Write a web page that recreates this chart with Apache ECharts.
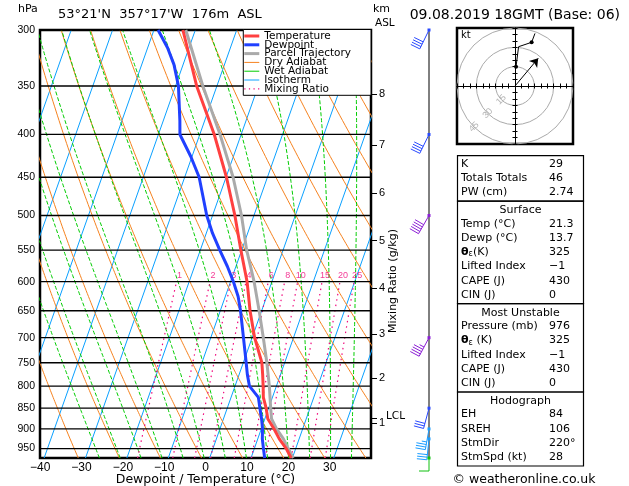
<!DOCTYPE html>
<html>
<head>
<meta charset="utf-8">
<title>Skew-T</title>
<script src="https://cdn.jsdelivr.net/npm/echarts@6/dist/echarts.min.js"></script>
<style>
  html, body { margin: 0; padding: 0; background: #fff; }
  #chart { width: 629px; height: 486px; }
</style>
</head>
<body>
<div id="chart"></div>
<script>
// 温度廓线 (hPa / °C)
var tempP = [975, 950, 925, 900, 875, 850, 825, 800, 775, 750, 700, 650, 600, 550, 500, 450, 400, 350, 300];
var tempT = [19.7, 17.7, 15.2, 13.1, 10.7, 9.4, 7.8, 6.8, 5.7, 4.5, 0.6, -2.8, -6.0, -10.2, -14.6, -19.9, -26.5, -34.9, -43.0];
// 露点廓线
var dewP = [975, 950, 925, 900, 875, 850, 825, 800, 775, 750, 700, 650, 625, 600, 575, 550, 525, 500, 450, 425, 400, 385, 350, 330, 315, 300];
var dewT = [13.3, 12.2, 11.1, 10.3, 9.2, 7.9, 6.6, 3.5, 2.0, 0.7, -2.1, -5.1, -6.9, -9.3, -12.1, -15.3, -18.5, -21.4, -26.5, -30.3, -34.8, -36.0, -39.3, -42.2, -45.2, -49.0];
// 气块路径
var parcelP = [975, 950, 925, 900, 875, 850, 800, 750, 700, 650, 600, 550, 500, 450, 400, 350, 300];
var parcelT = [20.2, 18.2, 16.2, 13.7, 11.6, 10.5, 8.3, 5.7, 2.7, -0.6, -4.3, -8.8, -13.0, -18.3, -25.1, -33.4, -42.3];

// 背景线
var isobars = [300, 350, 400, 450, 500, 550, 600, 650, 700, 750, 800, 850, 900, 950];
var isoT = [-80, -70, -60, -50, -40, -30, -20, -10, 0, 10, 20, 30, 40];
var dryTheta = [-40, -30, -20, -10, 0, 10, 20, 30, 40, 50, 60, 70, 80, 90, 100, 110, 120];
var wetThw = [-25, -20, -15, -10, -5, 0, 5, 10, 15, 20, 25, 30, 35];
var mixW = [1, 2, 3, 4, 6, 8, 10, 15, 20, 25];

// 坐标轴刻度
var xTicks = [-40, -30, -20, -10, 0, 10, 20, 30];
var kmP = [357.8, 411.8, 470.5, 536, 611, 693.7, 783, 873, 885];
var kmLabels = ['8', '7', '6', '5', '4', '3', '2', 'LCL', '1'];

// 风羽
var windP = [300, 400, 500, 700, 850, 900, 925, 975];
var windDir = [206, 206, 210, 208, 195, 190, 186, 180];
var windSpd = [40, 40, 50, 45, 30, 35, 30, 10];
var windCol = ['#2848ff', '#2848ff', '#8c1ed6', '#8c1ed6', '#2848ff', '#1a9cff', '#1a9cff', '#10c010'];

// 速度图 (kt)
var hodoU = [0.8, 2.8, 12.9, 15.5];
var hodoV = [15.0, 30.5, 33.9, 40.8];
var hodoRings = [15, 30, 45];
var stormDir = 220, stormSpd = 28;

// 指数表
var indexRows = [['K', '29'], ['Totals Totals', '46'], ['PW (cm)', '2.74']];
var surfaceRows = [['Temp (°C)', '21.3'], ['Dewp (°C)', '13.7'], ['{b|θ}{s|ε}(K)', '325'], ['Lifted Index', '\u22121'], ['CAPE (J)', '430'], ['CIN (J)', '0']];
var muRows = [['Pressure (mb)', '976'], ['{b|θ}{s|ε} (K)', '325'], ['Lifted Index', '\u22121'], ['CAPE (J)', '430'], ['CIN (J)', '0']];
var hodoRows = [['EH', '84'], ['SREH', '106'], ['StmDir', '220°'], ['StmSpd (kt)', '28']];

var chart = echarts.init(document.getElementById('chart'));

var S = 31, PB = 975, PT = 300;   // 斜率 (°C / ln p), 底部和顶部气压
function skew(t, p) { return t + S * Math.log(PB / p); }
function levels(top, step) {
  var a = [];
  for (var p = PB; p >= top - 0.01; p -= step) a.push(p);
  return a;
}
var fine = levels(PT, 5);

function lapse(t, p) { // 湿绝热 dT/dp (K/hPa)
  var tc = t - 273.15;
  var es = 6.112 * Math.exp(17.67 * tc / (tc + 243.5));
  var rs = 0.622 * es / (p - es);
  var Rd = 287.04, cp = 1005.7, Lv = 2.501e6;
  return (Rd * t + Lv * rs) / (p * (cp + Lv * Lv * rs * 0.622 / (Rd * t * t)));
}
function moist(thw) {
  var t = thw + 273.15, p = 1000, out = [];
  while (p >= PT - 0.01) {
    if (p <= PB + 0.01) out.push([skew(t - 273.15, p), p]);
    var k1 = lapse(t, p), k2 = lapse(t - 5 * k1, p - 5);
    t -= 2.5 * (k1 + k2);
    p -= 5;
  }
  return out;
}
function tdFromW(w, p) {
  var e = w * p / (622 + w), l = Math.log(e / 6.112);
  return 243.5 * l / (17.67 - l);
}
function profile(ps, ts) {
  return ps.map(function (p, i) { return [skew(ts[i], p), p]; });
}
function minus(v) { return String(v).replace('-', '\u2212'); }

var series = [];
function bg(name, data, color, width, type, z) {
  series.push({
    name: name, type: 'line', xAxisIndex: 0, yAxisIndex: 0, data: data,
    symbol: 'none', silent: true, z: z || 2,
    itemStyle: { color: color },
    lineStyle: { color: color, width: width, type: type || 'solid' }
  });
}

isoT.forEach(function (t) {
  bg('Isotherm', [[skew(t, PB), PB], [skew(t, PT), PT]], '#0aa0ff', 1);
});
dryTheta.forEach(function (th) {
  var K = th + 273.15;
  bg('Dry Adiabat', fine.map(function (p) {
    return [skew(K * Math.pow(p / 1000, 0.2857) - 273.15, p), p];
  }), '#f5821f', 1);
});
wetThw.forEach(function (thw) {
  bg('Wet Adiabat', moist(thw), '#00cc00', 1, [4, 2]);
});
var mixP = levels(600, 25);
mixW.forEach(function (w) {
  bg('Mixing Ratio', mixP.map(function (p) { return [skew(tdFromW(w, p), p), p]; }), '#f0087c', 1.2, [1.5, 4]);
});
// 混合比标注
series.push({
  type: 'scatter', xAxisIndex: 0, yAxisIndex: 0, silent: true, z: 3,
  symbolSize: 1, itemStyle: { color: 'rgba(0,0,0,0)' },
  data: mixW.map(function (w) { return [skew(tdFromW(w, 600), 600), 600, w]; }),
  label: {
    show: true, position: 'top', distance: 1, offset: [3, 0],
    formatter: function (d) { return d.value[2]; },
    color: '#f0087c', fontFamily: 'Liberation Sans', fontSize: 9
  }
});
isobars.forEach(function (p) {
  series.push({
    type: 'line', xAxisIndex: 0, yAxisIndex: 0, symbol: 'none', silent: true, z: 3,
    data: [[-41, p], [39, p]], lineStyle: { color: '#000', width: 1.3 }
  });
});

function thick(name, data, color) {
  series.push({
    name: name, type: 'line', xAxisIndex: 0, yAxisIndex: 0, data: data,
    symbol: 'none', silent: true, z: 5,
    itemStyle: { color: color }, lineStyle: { color: color, width: 3 }
  });
}
thick('Parcel Trajectory', profile(parcelP, parcelT), '#aaaaaa');
thick('Temperature', profile(tempP, tempT), '#ff4040');
thick('Dewpoint', profile(dewP, dewT), '#2040ff');

// 风羽
series.push({
  type: 'line', xAxisIndex: 1, yAxisIndex: 2, symbol: 'none', silent: true,
  data: [[0, PT], [0, PB]], lineStyle: { color: '#000', width: 1 }
});
series.push({
  type: 'custom', xAxisIndex: 1, yAxisIndex: 2, silent: true, z: 4,
  data: windP.map(function (p, i) { return [0, p, windDir[i], windSpd[i]]; }),
  renderItem: function (params, api) {
    var pt = api.coord([0, api.value(1)]);
    var d = api.value(2) * Math.PI / 180, spd = api.value(3);
    var col = windCol[params.dataIndex];
    var ux = Math.sin(d), uy = -Math.cos(d);
    var fx = -uy, fy = ux;
    var L = params.dataIndex === windP.length - 1 ? 13 : 21, F = 10, G = 2.6;
    var kids = [{
      type: 'line', shape: { x1: pt[0], y1: pt[1], x2: pt[0] + L * ux, y2: pt[1] + L * uy },
      style: { stroke: col, lineWidth: 1 }
    }];
    var n = Math.floor(spd / 10), half = spd % 10 >= 5;
    for (var i = 0; i <= n; i++) {
      if (i === n && !half) break;
      var len = i === n ? F / 2 : F;
      var bx = pt[0] + (L - i * G) * ux, by = pt[1] + (L - i * G) * uy;
      kids.push({
        type: 'line', shape: { x1: bx, y1: by, x2: bx + len * fx, y2: by + len * fy },
        style: { stroke: col, lineWidth: 1 }
      });
    }
    kids.push({ type: 'rect', shape: { x: pt[0] - 1.5, y: pt[1] - 1.5, width: 3, height: 3 }, style: { fill: col } });
    return { type: 'group', children: kids };
  }
});

// 速度图
var sd = stormDir * Math.PI / 180;
series.push({
  type: 'line', xAxisIndex: 2, yAxisIndex: 3, silent: true, z: 5,
  data: hodoU.map(function (u, i) {
    return { value: [u, hodoV[i]], symbolSize: (i === 0 || i === 2) ? 4 : 0 };
  }),
  symbol: 'circle', showSymbol: true,
  itemStyle: { color: '#000' }, lineStyle: { color: '#000', width: 1 },
  markLine: {
    silent: true, symbol: ['none', 'arrow'], symbolSize: 8, animation: false,
    label: { show: false }, lineStyle: { color: '#000', width: 1, type: 'solid' },
    data: [[{ coord: [0, 0] }, { coord: [-stormSpd * Math.sin(sd), -stormSpd * Math.cos(sd)] }]]
  }
});
series.push({
  type: 'scatter', xAxisIndex: 2, yAxisIndex: 3, silent: true,
  symbolSize: 1, itemStyle: { color: 'rgba(0,0,0,0)' },
  data: hodoRings.map(function (r) { return [-r * 0.707, -r * 0.707, r]; }),
  label: {
    show: true, position: 'inside', rotate: 45,
    formatter: function (d) { return d.value[2]; },
    color: '#a0a0a0', fontFamily: 'Liberation Sans', fontSize: 9
  }
});

// 指数表
var graphic = [];
var tbL = 457.5, tbW = 126, lblX = 461, valX = 549, rowH = 14.3;
var txtFont = '11px "DejaVu Sans"';
var rich = { b: { fontFamily: 'DejaVu Sans', fontWeight: 'bold', fontSize: 11 }, s: { fontFamily: 'DejaVu Sans', fontSize: 8, verticalAlign: 'bottom', padding: [4, 0, 0, 0] } };
function text(x, y, s, align, font) {
  graphic.push({
    type: 'text', x: x, y: y, silent: true,
    style: { text: s, font: font || txtFont, fill: '#000', align: align || 'left', verticalAlign: 'middle', textAlign: align || 'left', textVerticalAlign: 'middle', rich: rich }
  });
}
function section(top, header, rows) {
  var lines = rows.length + (header ? 1 : 0);
  var h = lines * rowH + 2.5;
  graphic.push({ type: 'rect', silent: true, shape: { x: tbL, y: top, width: tbW, height: h }, style: { fill: 'none', stroke: '#000', lineWidth: 1.2 } });
  var k = 0;
  if (header) { text(tbL + tbW / 2, top + 9, header, 'center'); k = 1; }
  rows.forEach(function (r, i) {
    var y = top + 8.3 + (i + k) * rowH;
    text(lblX, y, r[0]);
    text(valX, y, r[1]);
  });
  return top + h;
}
var ty = section(155.7, null, indexRows);
ty = section(ty, 'Surface', surfaceRows);
ty = section(ty, 'Most Unstable', muRows);
section(ty, 'Hodograph', hodoRows);
text(524, 479.5, '© weatheronline.co.uk', 'center', '12.5px "DejaVu Sans"');
text(461, 35.5, 'kt', 'left', '10px "DejaVu Sans"');
graphic.push({
  type: 'text', x: 393, y: 281, rotation: Math.PI / 2, silent: true,
  style: { text: 'Mixing Ratio (g/kg)', font: txtFont, fill: '#000', align: 'center', verticalAlign: 'middle', textAlign: 'center', textVerticalAlign: 'middle' }
});

var hidden = { show: false };
function hodoAxis(pos) {
  return {
    type: 'value', gridIndex: 2, position: pos, min: -45, max: 45, interval: 5,
    axisLine: { onZero: true, lineStyle: { color: '#000', width: 1 } },
    axisTick: { show: true, length: 2.5, lineStyle: { color: '#000' } },
    axisLabel: hidden, splitLine: hidden
  };
}
var logY = { type: 'log', min: PT, max: PB, inverse: true };

// 图例图标
var lineIcon = 'path://M0,0H15V1H0Z';
var thickIcon = 'path://M0,0H15V3H0Z';
var dotIcon = 'path://M0,0H1.2V1.2H0Z M4.5,0H5.7V1.2H4.5Z M9,0H10.2V1.2H9Z M13.5,0H14.7V1.2H13.5Z';

var option = {
  animation: false,
  backgroundColor: '#fff',
  title: [
    { text: 'hPa', left: 18, top: 4, padding: 0, textStyle: { fontFamily: 'DejaVu Sans', fontSize: 11, fontWeight: 'normal', color: '#000' } },
    { text: '53°21\'N  357°17\'W  176m  ASL', left: 58, top: 8, padding: 0, textStyle: { fontFamily: 'DejaVu Sans', fontSize: 13, fontWeight: 'normal', color: '#000' } },
    { text: 'km', left: 373, top: 4, padding: 0, textStyle: { fontFamily: 'DejaVu Sans', fontSize: 11, fontWeight: 'normal', color: '#000' } },
    { text: 'ASL', left: 375, top: 18, padding: 0, textStyle: { fontFamily: 'DejaVu Sans', fontSize: 10.5, fontWeight: 'normal', color: '#000' } },
    { text: '09.08.2019 18GMT (Base: 06)', right: 9, top: 8, padding: 0, textStyle: { fontFamily: 'DejaVu Sans', fontSize: 14, fontWeight: 'normal', color: '#000' } }
  ],
  legend: {
    data: [
      { name: 'Temperature', icon: thickIcon },
      { name: 'Dewpoint', icon: thickIcon },
      { name: 'Parcel Trajectory', icon: thickIcon },
      { name: 'Dry Adiabat', icon: lineIcon },
      { name: 'Wet Adiabat', icon: lineIcon },
      { name: 'Isotherm', icon: lineIcon },
      { name: 'Mixing Ratio', icon: dotIcon }
    ],
    orient: 'vertical', right: 258, top: 29.5, selectedMode: false,
    itemWidth: 15, itemHeight: 8, itemGap: -2.2,
    backgroundColor: '#fff', borderColor: '#000', borderWidth: 1, borderRadius: 0,
    padding: [1, 20, 1, 1],
    textStyle: { fontFamily: 'DejaVu Sans', fontSize: 10.5, color: '#000' }
  },
  grid: [
    { left: 40, top: 30, width: 331, height: 428, show: true, borderColor: '#000', borderWidth: 2.5, outerBoundsMode: 'none', containLabel: false },
    { left: 399, top: 30, width: 60, height: 428, outerBoundsMode: 'none' },
    { left: 457, top: 28, width: 116, height: 116, show: true, borderColor: '#000', borderWidth: 2.5, outerBoundsMode: 'none' }
  ],
  polar: { center: [515, 86], radius: 58 },
  radiusAxis: {
    polarIndex: 0, min: 0, max: 45, interval: 15,
    axisLine: hidden, axisTick: hidden, axisLabel: hidden,
    splitLine: { show: true, lineStyle: { color: '#aaaaaa', width: 1 } }
  },
  angleAxis: { polarIndex: 0, show: false },
  xAxis: [
    {
      type: 'value', gridIndex: 0, min: -41, max: 39,
      axisLine: hidden, axisTick: hidden, splitLine: hidden,
      axisLabel: { customValues: xTicks, formatter: minus, color: '#000', fontFamily: 'Liberation Sans', fontSize: 12, margin: 4, padding: [0, 8, 0, 0] },
      name: 'Dewpoint / Temperature (°C)', nameLocation: 'middle', nameGap: 15, nameMoveOverlap: false,
      nameTextStyle: { fontFamily: 'DejaVu Sans', fontSize: 12.5, color: '#000' }
    },
    { type: 'value', gridIndex: 1, min: -1, max: 1, show: false },
    hodoAxis('bottom'),
    hodoAxis('top')
  ],
  yAxis: [
    Object.assign({}, logY, {
      gridIndex: 0, axisLine: hidden, axisTick: hidden, splitLine: hidden,
      axisLabel: { customValues: isobars, color: '#000', fontFamily: 'Liberation Sans', fontSize: 10.5, margin: 5 }
    }),
    Object.assign({}, logY, {
      gridIndex: 0, position: 'right', axisLine: hidden, splitLine: hidden,
      axisTick: { show: true, customValues: kmP, length: 6, lineStyle: { color: '#000', width: 1 } },
      axisLabel: {
        customValues: kmP, margin: 8, color: '#000', fontFamily: 'Liberation Sans', fontSize: 11,
        formatter: function (v) {
          var best = 0;
          kmP.forEach(function (p, i) { if (Math.abs(p - v) < Math.abs(kmP[best] - v)) best = i; });
          var s = kmLabels[best];
          return s === 'LCL' ? '{l|LCL}' : s;
        },
        rich: { l: { fontFamily: 'DejaVu Sans', fontSize: 10.5, color: '#000', padding: [0, 0, 3, 7] } }
      }
    }),
    Object.assign({}, logY, { gridIndex: 1, show: false }),
    hodoAxis('left'),
    hodoAxis('right')
  ],
  graphic: graphic,
  series: series
};

chart.setOption(option);
</script>
</body>
</html>
